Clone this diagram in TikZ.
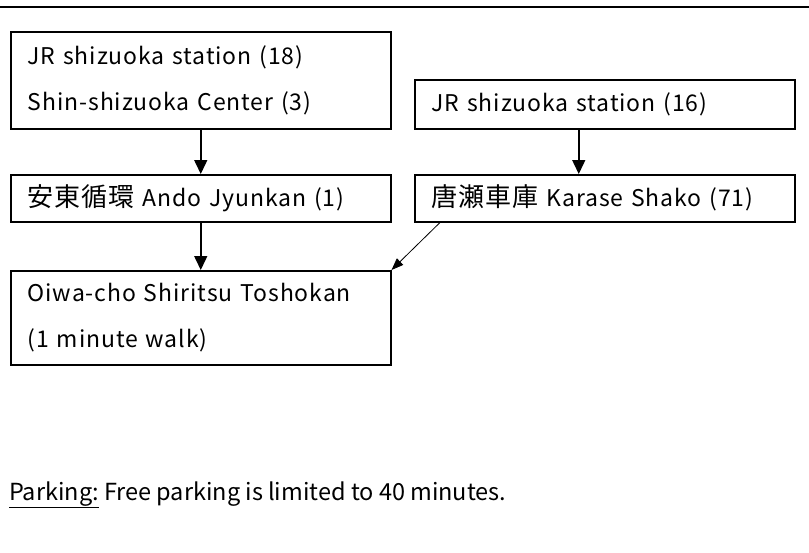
\documentclass[tikz,border=0pt]{standalone}
\usepackage{fontspec}
\setmainfont{Noto Sans CJK JP}
\newfontfamily\stopfont[LetterSpace=4]{Noto Sans CJK JP}
\newcommand{\kanji}[1]{{\fontsize{26}{46}\selectfont #1}}
\usetikzlibrary{arrows.meta}

\begin{document}
\begin{tikzpicture}[x=1pt, y=-1pt,
  stopbox/.style={draw, line width=1.5pt, anchor=north west, align=left,
    text width=346pt, inner xsep=17pt, inner ysep=0pt,
    font=\stopfont\fontsize{23}{46}\selectfont},
  ride/.style={-{Triangle[length=14pt,width=13pt]}, line width=1.5pt},
  walk/.style={-{Triangle[length=12pt,width=9pt]}, line width=0.8pt}]

\useasboundingbox (0,0) rectangle (809,552);
\draw[line width=2pt] (0,7) -- (809,7);

\node[stopbox, minimum height=97pt] (jr18) at (10,31) {JR shizuoka station (18)\\Shin-shizuoka Center (3)};
\node[stopbox, minimum height=49pt] (jr16) at (414,79) {JR shizuoka station (16)};
\node[stopbox, minimum height=47pt] (ando) at (10,174) {\kanji{安東循環} Ando Jyunkan (1)};
\node[stopbox, minimum height=47pt] (karase) at (414,174) {\kanji{唐瀬車庫} Karase Shako (71)};
\node[stopbox, minimum height=94pt] (library) at (10,270) {Oiwa-cho Shiritsu Toshokan\\(1 minute walk)};

\draw[ride] (jr18) -- (ando);
\draw[ride] ([xshift=-26pt]jr16.south) -- ([xshift=-26pt]karase.north);
\draw[ride] (ando) -- (library);
\draw[walk] ([xshift=26pt]karase.south west) -- (library.north east);

\node[anchor=west, inner sep=0pt, font=\fontsize{23.5}{28}\selectfont] (parking) at (9,495) {\underline{Parking:} Free parking is limited to 40 minutes.};
\end{tikzpicture}
\end{document}
